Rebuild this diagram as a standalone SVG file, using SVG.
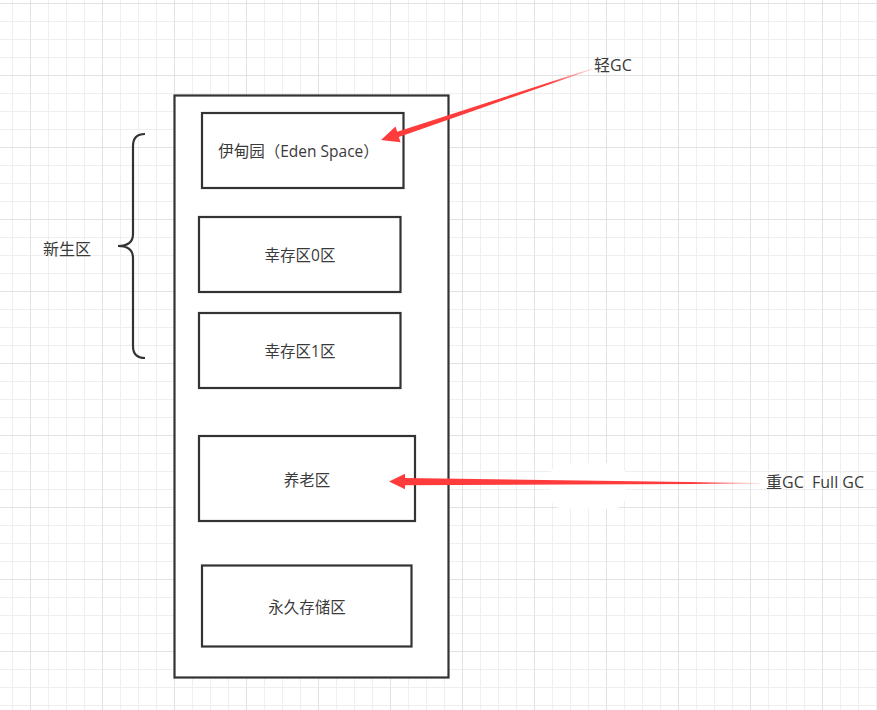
<svg xmlns="http://www.w3.org/2000/svg" width="877" height="710" viewBox="0 0 877 710">
  <defs>
    <pattern id="grid" patternUnits="userSpaceOnUse" x="30" y="3" width="72" height="72">
      <path d="M18.5 0V72M36.5 0V72M54.5 0V72M0 18.5H72M0 36.5H72M0 54.5H72" stroke="#efefef" stroke-width="1" fill="none"/>
      <path d="M0.5 0V72M0 0.5H72" stroke="#e2e2e2" stroke-width="1" fill="none"/>
    </pattern>
    <linearGradient id="g1" gradientUnits="userSpaceOnUse" x1="592" y1="69" x2="381" y2="140">
      <stop offset="0" stop-color="#ff3b3b" stop-opacity="0.15"/>
      <stop offset="0.2" stop-color="#ff3b3b" stop-opacity="1"/>
      <stop offset="1" stop-color="#ff3b3b" stop-opacity="1"/>
    </linearGradient>
    <linearGradient id="g2" gradientUnits="userSpaceOnUse" x1="760" y1="483" x2="389" y2="481">
      <stop offset="0" stop-color="#ff3b3b" stop-opacity="0.15"/>
      <stop offset="0.18" stop-color="#ff3b3b" stop-opacity="1"/>
      <stop offset="1" stop-color="#ff3b3b" stop-opacity="1"/>
    </linearGradient>
  </defs>
  <style>
    .box { fill: #ffffff; stroke: #333333; stroke-width: 2.2; }
    .lbl { font-family: "Open Sans", "Noto Sans CJK SC", "Noto Sans", sans-serif; font-size: 15.5px; fill: #3a3a3a; dominant-baseline: central; }
    .out { font-size: 16px; }
    .mid { text-anchor: middle; }
  </style>
  <rect x="0" y="0" width="877" height="710" fill="#ffffff"/>
  <rect x="0" y="0" width="877" height="710" fill="url(#grid)"/>
  <rect x="550" y="463" width="76" height="46" rx="14" fill="#ffffff"/>

  <g id="heap">
    <rect class="box" x="174.5" y="95.5" width="274" height="582"/>
  </g>
  <g id="eden">
    <rect class="box" x="202" y="113" width="201.5" height="75"/>
    <text class="lbl mid" x="298.5" y="151">伊甸园（Eden Space）</text>
  </g>
  <g id="survivor0">
    <rect class="box" x="199" y="217" width="201.5" height="75"/>
    <text class="lbl mid" x="300" y="255">幸存区0区</text>
  </g>
  <g id="survivor1">
    <rect class="box" x="199" y="313" width="201.5" height="75"/>
    <text class="lbl mid" x="300" y="350.5">幸存区1区</text>
  </g>
  <g id="old">
    <rect class="box" x="199" y="436" width="216" height="85"/>
    <text class="lbl mid" x="307" y="479.5">养老区</text>
  </g>
  <g id="perm">
    <rect class="box" x="202" y="565.5" width="209.5" height="81"/>
    <text class="lbl mid" x="307" y="607">永久存储区</text>
  </g>
  <g id="young-label">
    <path d="M145 134 Q133 134 133 146 L133 234 Q133 246 118 246 Q133 246 133 258 L133 346 Q133 358 145 358" fill="none" stroke="#333333" stroke-width="2.2"/>
    <text class="lbl out" x="43" y="248.5">新生区</text>
  </g>
  <g id="minor-gc-label">
    <text class="lbl out" x="594" y="64.5">轻GC</text>
  </g>
  <g id="full-gc-label">
    <text class="lbl out" x="766" y="481.5" xml:space="preserve">重GC  Full GC</text>
  </g>
  <g id="connectors">
    <polygon points="381,140 395.5,126.5 397.2,131.7 592,68.6 592.2,69.4 398.9,136.9 400.5,142.2" fill="url(#g1)"/>
    <polygon points="389,481.5 405,473.8 405,478 760,483 760,483.8 405,485.2 405,489.2" fill="url(#g2)"/>
  </g>
</svg>
